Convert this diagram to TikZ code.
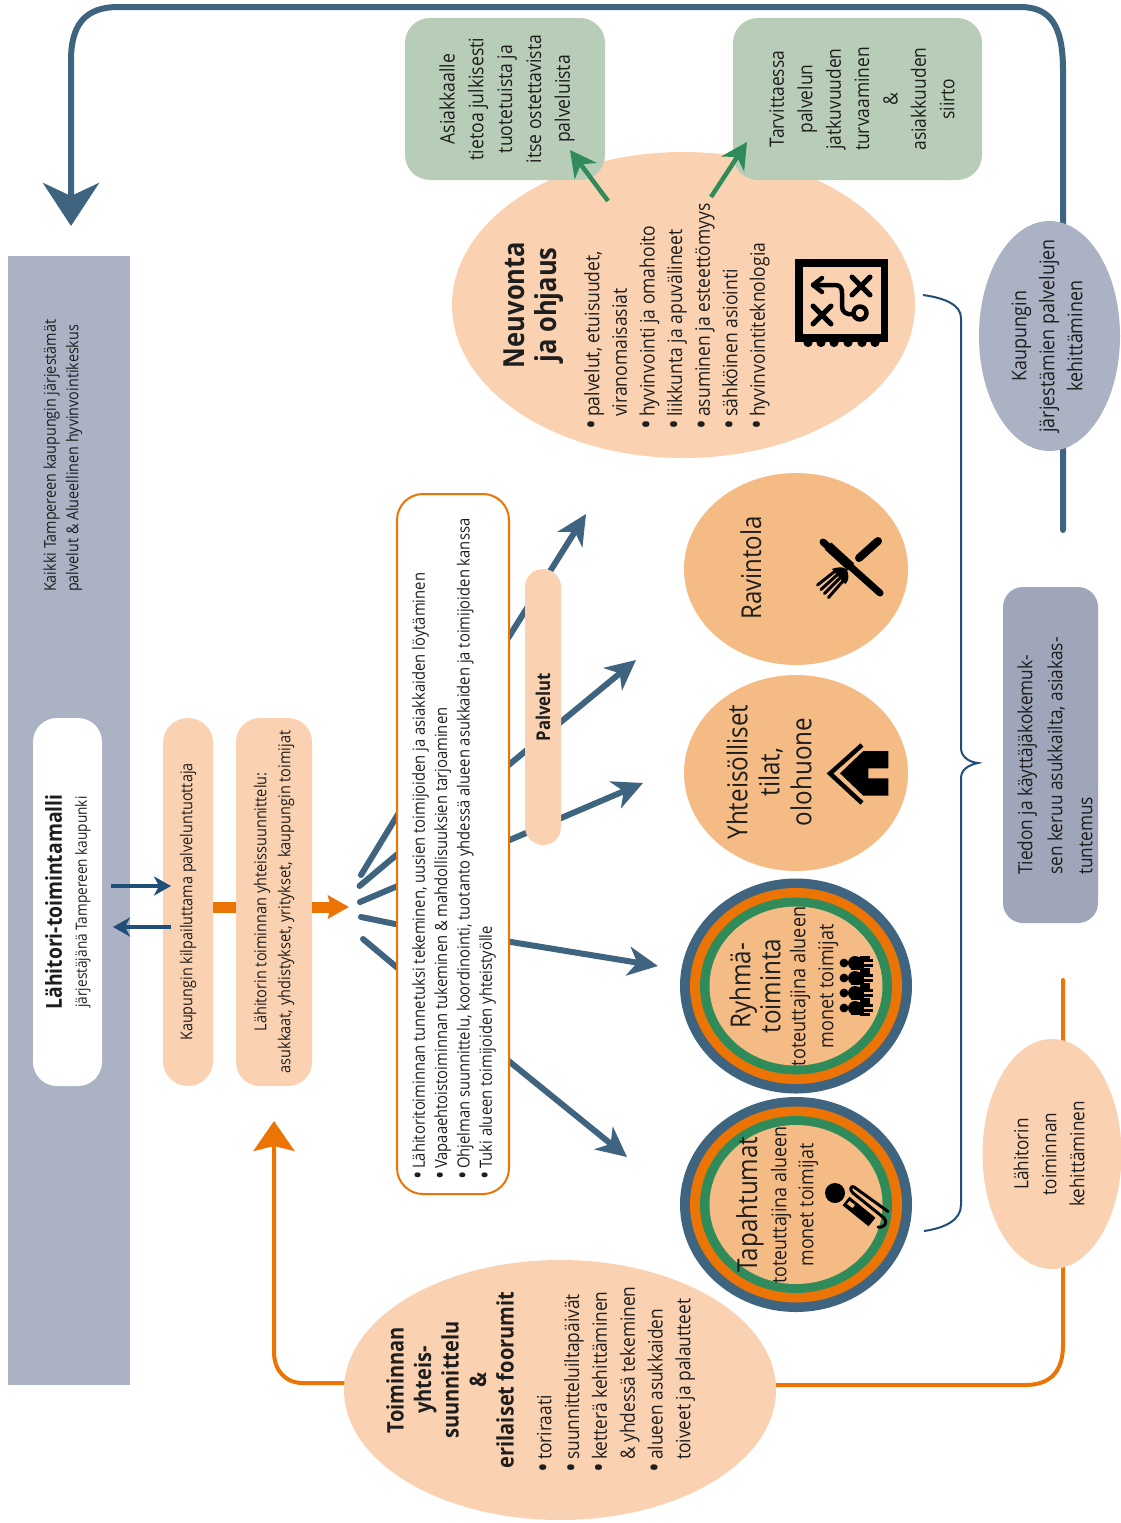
\documentclass[tikz,border=0pt]{standalone}
\usepackage{fontspec}
\setmainfont{Open Sans}
\newfontfamily\osn[FakeStretch=0.88]{Open Sans}
\usetikzlibrary{shapes.geometric,arrows.meta}
\definecolor{ink}{HTML}{1E1E1E}
\definecolor{barg}{HTML}{ABB2C3}
\definecolor{slate}{HTML}{9FA6BA}
\definecolor{peach}{HTML}{FBD2B1}
\definecolor{tan}{HTML}{F5BB85}
\definecolor{sage}{HTML}{B8CDB8}
\definecolor{oran}{HTML}{EB7405}
\definecolor{steel}{HTML}{3F6480}
\definecolor{navy}{HTML}{1F4E79}
\definecolor{leaf}{HTML}{2F8C5A}
\newcommand\fs[2]{\fontsize{#1pt}{#2pt}\selectfont}
\newcommand\bul[1][13pt]{\makebox[#1][l]{\raisebox{-0.12em}{\scalebox{1.5}{\textbullet}}}}
\newcommand\ind{\hspace*{13pt}}
\tikzset{
  txt/.style={rotate=90,inner sep=0pt,align=center,text=ink},
  txl/.style={rotate=90,inner sep=0pt,align=left,text=ink,anchor=west},
  oval/.style={ellipse,inner sep=0pt,draw=none},
  rbox/.style={rectangle,rotate=90,inner sep=0pt,text=ink,align=center},
  spoke/.style={draw=steel,line width=6pt,line cap=round},
  sarrow/.style={draw=steel,line width=6pt,-{Stealth[length=30pt,width=29pt,inset=9pt]}},
  narrow/.style={draw=navy,line width=3.5pt,-{Stealth[length=17pt,width=19pt,inset=5pt]}},
  garrow/.style={draw=leaf,line width=4.5pt,-{Stealth[length=26pt,width=27pt,inset=8pt]}},
  ic/.style={line cap=round,line join=round,draw=black},
}
\begin{document}
\begin{tikzpicture}[x=1pt,y=-1pt]
\useasboundingbox (0,0) rectangle (1121,1523);
\fill[white] (0,0) rectangle (1121,1523);

% left grey bar
\node[rbox,fill=barg,minimum width=1129pt,minimum height=122pt] (bar) at (69,820.5) {};
\node[txl,font=\osn\fs{16.3}{22.5}] (bartext) at (63,592) {Kaikki Tampereen kaupungin järjestämät\\palvelut \& Alueellinen hyvinvointikeskus};
\node[rbox,fill=white,rounded corners=24pt,minimum width=368pt,minimum height=69pt] (model) at (67.5,902) {};
\node[txt,font=\osn\fs{15.5}{25}] (modeltext) at (68,902) {{\bfseries\fs{22}{25}Lähitori-toimintamalli}\\järjestäjänä Tampereen kaupunki};

% pills
\node[rbox,fill=peach,rounded corners=24.9pt,minimum width=368pt,minimum height=50pt,font=\osn\fs{16.4}{20}] (pillA) at (188,902) {Kaupungin kilpailuttama palveluntuottaja};
\node[rbox,fill=peach,rounded corners=24pt,minimum width=368pt,minimum height=76pt,font=\osn\fs{16.5}{24}] (pillB) at (274,902) {Lähitorin toiminnan yhteissuunnittelu:\\asukkaat, yhdistykset, yritykset, kaupungin toimijat};

% navy and orange arrows around pills
\coordinate (nA) at (111,886); \coordinate (nB) at (171,886);
\coordinate (nC) at (171,927); \coordinate (nD) at (113,927);
\draw[narrow] (nA) -- (nB);
\draw[narrow] (nC) -- (nD);
\coordinate (oA) at (213,907); \coordinate (oB) at (236,907);
\coordinate (oC) at (312,907); \coordinate (oD) at (349,907);
\draw[oran,line width=11pt] (oA) -- (oB);
\draw[oran,line width=11pt,-{Stealth[length=21pt,width=23pt,inset=3pt]}] (oC) -- (oD);

% spokes
\coordinate (hubA) at (361,875); \coordinate (boxA) at (400,811);
\coordinate (hubB) at (359.5,886); \coordinate (boxB) at (400,852);
\coordinate (hubC) at (360,902); \coordinate (boxC) at (400,885);
\coordinate (hubD) at (361,917); \coordinate (boxD) at (400,925);
\coordinate (hubE) at (363,939); \coordinate (boxE) at (400,970);
\draw[spoke] (hubA) -- (boxA);
\draw[spoke] (hubB) -- (boxB);
\draw[spoke] (hubC) -- (boxC);
\draw[spoke] (hubD) -- (boxD);
\draw[spoke] (hubE) -- (boxE);
\coordinate (sA) at (505,643); \coordinate (tA) at (586,514);
\coordinate (sB) at (505,768); \coordinate (tB) at (636,660);
\coordinate (sC) at (505,842); \coordinate (tC) at (643,783);
\coordinate (sD) at (505,941); \coordinate (tD) at (658,966);
\coordinate (sE) at (505,1058); \coordinate (tE) at (627,1157);
\draw[sarrow] (sA) -- (tA);
\draw[sarrow] (sB) -- (tB);
\draw[sarrow] (sC) -- (tC);
\draw[sarrow] (sD) -- (tD);
\draw[sarrow] (sE) -- (tE);

% main white box
\node[rbox,fill=white,draw=oran,line width=2pt,rounded corners=26pt,minimum width=700pt,minimum height=112pt] (mainbox) at (453,844) {};
\node[txl,font=\osn\fs{16.8}{22.3}] (maintext) at (454,1180) {\bul[11pt]Lähitoritoiminnan tunnetuksi tekeminen, uusien toimijoiden ja asiakkaiden löytäminen\\
\bul[11pt]Vapaaehtoistoiminnan tukeminen \& mahdollisuuksien tarjoaminen\\
\bul[11pt]Ohjelman suunnittelu, koordinointi, tuotanto yhdessä alueen asukkaiden ja toimijoiden kanssa\\
\bul[11pt]Tuki alueen toimijoiden yhteistyölle};
\node[rbox,fill=peach,rounded corners=17.9pt,minimum width=276pt,minimum height=36pt,font=\osn\bfseries\fs{19}{20}] (palv) at (543,707) {Palvelut};

% big blue loop
\coordinate (bS) at (1063,530); \coordinate (bE) at (71,226);
\draw[steel,line width=6pt,line cap=round,-{Stealth[length=43pt,width=56pt,inset=13pt]}]
  (bS) -- (1063,70) .. controls (1063,25) and (1050,7) .. (1020,7) -- (118,7) .. controls (85,7) and (71,25) .. (71,60) -- (bE);

% orange loop
\coordinate (oS) at (1063,980); \coordinate (oM) at (770,1385);
\draw[oran,line width=4pt,line cap=round] (oS) -- (1063,1345) .. controls (1063,1372) and (1050,1385) .. (1025,1385) -- (oM);
\coordinate (oL) at (350,1383); \coordinate (oT) at (274,1121);
\draw[oran,line width=4pt,-{Stealth[length=30pt,width=41pt,inset=5pt]}] (oL) -- (303,1383) .. controls (285,1383) and (274,1370) .. (274,1352) -- (oT);

% brace
\coordinate (brT) at (923,295); \coordinate (brB) at (924,1231);
\draw[navy,line width=2pt] (brT) .. controls (945,298) and (961,305) .. (961,318) -- (961,748) .. controls (961,756) and (968,762) .. (978,763) .. controls (968,765) and (961,770) .. (961,778) -- (961,1205) .. controls (961,1220) and (945,1228) .. (brB);

% Neuvonta
\node[oval,fill=peach,minimum width=463pt,minimum height=306pt] (neuv) at (683.5,305) {};
\node[txt,font=\osn\bfseries\fs{29}{32}] (neuvtitle) at (534,305) {Neuvonta\\ja ohjaus};
\node[txl,font=\osn\fs{19.9}{27.6}] (neuvlist) at (677,430) {\bul palvelut, etuisuudet,\\
\ind viranomaisasiat\\
\bul hyvinvointi ja omahoito\\
\bul liikkunta ja apuvälineet\\
\bul asuminen ja esteettömyys\\
\bul sähköinen asiointi\\
\bul hyvinvointiteknologia};
% map icon
\draw[ic,line width=7.5pt,line cap=butt,line join=miter] (799,263) rectangle (884.5,338);
\foreach \sx in {808,821,834,848,862,875} \fill[black] (\sx,342.5) circle (4.6pt);
\draw[ic,line width=5pt] (852,277) -- (870,295) (870,277) -- (852,295);
\draw[ic,line width=5pt] (813,306) -- (831,324) (831,306) -- (813,324);
\draw[ic,line width=4.5pt] (860,313) circle (6.5pt);
\draw[ic,line width=4.5pt] (813,285) -- (835,285) .. controls (840,285) and (842,288) .. (842,293) -- (842,306) .. controls (842,312) and (846,315) .. (853,314);
\draw[ic,line width=4.5pt] (822,278) -- (813,285) -- (822,292);

% green boxes
\node[rbox,fill=sage,rounded corners=25pt,minimum width=162pt,minimum height=200pt] (gA) at (505,99) {};
\node[txt,font=\osn\fs{20}{28.8}] (gAtext) at (507,99) {Asiakkaalle\\tietoa julkisesti\\tuotetuista ja\\itse ostettavista\\palveluista};
\node[rbox,fill=sage,rounded corners=25pt,minimum width=162pt,minimum height=249pt] (gB) at (857.5,99) {};
\node[txt,font=\osn\fs{19.8}{28.4}] (gBtext) at (862,99) {Tarvittaessa\\palvelun\\jatkuvuuden\\turvaaminen\\\&\\asiakkuuden\\siirto};
\coordinate (gaS) at (608,201); \coordinate (gaT) at (570,150);
\coordinate (gbS) at (711,197); \coordinate (gbT) at (747,142);
\draw[garrow] (gaS) -- (gaT);
\draw[garrow] (gbS) -- (gbT);

% Ravintola
\node[oval,fill=tan,minimum width=224pt,minimum height=192pt] (rav) at (796,569) {};
\node[txt,font=\osn\fs{27.3}{30}] (ravtext) at (751,568) {Ravintola};
\draw[ic,line width=7pt] (823,542) -- (880,593);
\draw[ic,line width=9.5pt,line cap=butt] (828,546) -- (851,567);
\draw[ic,line width=8pt] (878,541) -- (859,558);
\fill[black] (832,569) .. controls (840,566) and (848,567) .. (848,573) .. controls (849,578) and (848,582) .. (845,584) -- cycle;
\draw[ic,line width=3pt] (834,572) -- (817.5,585) (837,575) -- (821,589.5) (840,578) -- (824.5,593.5) (843,581) -- (828.5,597.5);

% Yhteisolliset
\node[oval,fill=tan,minimum width=224pt,minimum height=196pt] (yht) at (796,773) {};
\node[txt,font=\osn\fs{27.5}{32}] (yhttext) at (769,772) {Yhteisölliset\\tilat,\\olohuone};
\draw[ic,line width=4.5pt,line cap=butt,line join=miter] (862,745) -- (830,773.5) -- (862,803);
\fill[black] (863.3,751) -- (888.3,751) -- (888.3,768.3) -- (868.3,768.3) -- (868.3,778.3) -- (888.3,778.3) -- (888.3,795.7) -- (863.3,795.7) -- (840,773.3) -- cycle;

% Toiminnan ellipse
\node[oval,fill=peach,minimum width=432pt,minimum height=260pt] (toim) at (560,1390) {};
\node[txt,font=\osn\bfseries\fs{22.8}{27.5}] (toimtitle) at (450,1380) {Toiminnan\\yhteis-\\suunnittelu\\\&\\erilaiset foorumit};
\node[txl,font=\osn\fs{19.7}{27.8}] (toimlist) at (616,1473) {\bul toriraati\\
\bul suunnitteluiltapäivät\\
\bul ketterä kehittäminen\\
\ind\& yhdessä tekeminen\\
\bul alueen asukkaiden\\
\ind toiveet ja palautteet};

% Ryhma ring
\node[oval,fill=steel,minimum width=232pt,minimum height=215pt] (rA) at (796,986) {};
\node[oval,fill=oran,minimum width=212pt,minimum height=196pt] (rB) at (rA) {};
\node[oval,fill=leaf,minimum width=192pt,minimum height=177pt] (rC) at (rA) {};
\node[oval,fill=tan,minimum width=173pt,minimum height=159pt] (rD) at (rA) {};
\node[txt,font=\osn\fs{27.5}{30}] (rtitle) at (755,986) {Ryhmä-\\toiminta};
\node[txt,font=\osn\fs{20.5}{28}] (rsub) at (814,986.5) {toteuttajina alueen\\monet toimijat};
\foreach \py in {963,978,993,1008}{
  \fill[black] (844,\py) circle (4.4pt);
  \fill[black] (851,\py-6.5) rectangle (864,\py+6.5);
  \fill[black] (855,\py) circle (7pt);
  \draw[ic,line width=3pt,line cap=butt] (862,\py-2.5) -- (873,\py-2.5) (862,\py+2.5) -- (873,\py+2.5) (860,\py-6) -- (870,\py-6) (860,\py+6) -- (870,\py+6);
}

% Tapahtumat ring
\node[oval,fill=steel,minimum width=232pt,minimum height=215pt] (tA) at (796,1204.5) {};
\node[oval,fill=oran,minimum width=212pt,minimum height=196pt] (tB) at (tA) {};
\node[oval,fill=leaf,minimum width=192pt,minimum height=177pt] (tC) at (tA) {};
\node[oval,fill=tan,minimum width=173pt,minimum height=159pt] (tD) at (tA) {};
\node[txt,font=\osn\fs{27.5}{30}] (ttitle) at (750,1204.5) {Tapahtumat};
\node[txt,font=\osn\fs{20.3}{27}] (tsub) at (794.5,1205) {toteuttajina alueen\\monet toimijat};
\fill[black] (835,1193) circle (10pt);
\draw[ic,line width=11pt,line cap=butt] (846,1201) -- (872,1222);
\draw[ic,line width=3pt] (888,1211.5) -- (854,1187) .. controls (851,1185) and (849,1190) .. (853,1193) -- (884,1218) .. controls (888,1222) and (885,1228) .. (878,1227);
\fill[tan] (849.5,1201) -- (855,1205) -- (852.5,1208) -- (847,1204) -- cycle;

% right side
\node[rbox,fill=slate,rounded corners=20pt,minimum width=336pt,minimum height=95pt] (tied) at (1050.5,755) {};
\node[txl,font=\osn\fs{19.6}{30}] (tiedtext) at (1055,875) {Tiedon ja käyttäjäkokemuk-\\sen keruu asukkailta, asiakas-\\tuntemus};
\node[oval,fill=barg,minimum width=141pt,minimum height=230pt] (kaup) at (1049.5,336) {};
\node[txt,font=\osn\fs{20.3}{28}] (kauptext) at (1047,336) {Kaupungin\\järjestämien palvelujen\\kehittäminen};
\node[oval,fill=peach,minimum width=139pt,minimum height=230pt] (lah) at (1052,1154) {};
\node[txt,font=\osn\fs{19.5}{28}] (lahtext) at (1049,1154) {Lähitorin\\toiminnan\\kehittäminen};
\end{tikzpicture}
\end{document}
